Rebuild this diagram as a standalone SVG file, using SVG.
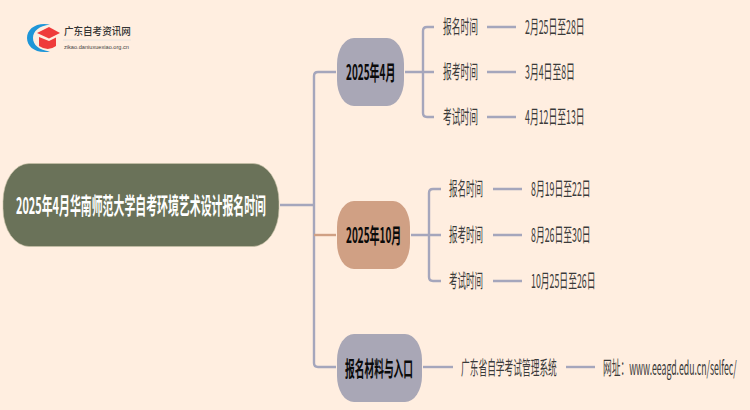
<svg xmlns="http://www.w3.org/2000/svg" width="750" height="410" viewBox="0 0 750 410">
<style>
text{font-family:"Noto Sans CJK SC","Liberation Sans",sans-serif;dominant-baseline:central;}
.b{font-size:21px;font-weight:700;fill:#0a0a0a;}
.r{font-size:23px;font-weight:700;fill:#fff;}
.t{font-size:19px;fill:#3a3a3a;}
.c{fill:none;stroke:#a5a6bc;stroke-width:2.4;}
.o{fill:none;stroke:#d0a084;stroke-width:2.4;}
</style>
<rect width="750" height="410" fill="#ffeee0"/>
<g id="connectors">
<path class="c" d="M280 205H314"/>
<path class="c" d="M336 72H318Q314 72 314 76V363Q314 367 318 367H336"/>
<path class="o" d="M314 235H336"/>
<path class="c" d="M405 72H434M434 27H427Q423 27 423 31V113Q423 117 427 117H434"/>
<path class="c" d="M411 235H441M441 189H433Q429 189 429 193V277Q429 281 433 281H441"/>
<path class="c" d="M423 367H453"/>
<path class="c" d="M487 27H516M487 72H516M487 117H516"/>
<path class="c" d="M493 189H522M493 235H522M493 281H522"/>
<path class="c" d="M566 367H595"/>
</g>
<g id="logo">
<path d="M50 24.500C36 22 27 29 27 38C27 47 36 54 50 51.500C39 50 33 45 33 38C33 31 39 26 50 24.500Z" fill="#1f96d8"/>
<path d="M37 33L49 27L60 33L49 38.500Z" fill="#ef3b3b"/>
<path d="M39 37L49 41L56 37.500V46Q48 52 39 46Z" fill="#ef3b3b"/>
<text transform="translate(64 30.500) scale(.91 1)" font-size="10.500" font-weight="500" fill="#333">广东自考资讯网</text>
<path d="M63 40H131" stroke="#e6e2de" stroke-width="1"/>
<text x="64" y="46.500" style="font-family:'Liberation Sans',sans-serif" font-size="6" fill="#444" textLength="65" lengthAdjust="spacingAndGlyphs">zikao.daniuxuexiao.org.cn</text>
</g>
<g id="root">
<rect x="3" y="163.500" width="276" height="83" rx="26" ry="38" fill="#6a7259" stroke="#c9c2a8" stroke-width="0.600"/>
<text class="r" transform="translate(16 203.500) scale(.474 1)">2025年4月华南师范大学自考环境艺术设计报名时间</text>
</g>
<g id="n2025-4">
<rect x="337" y="38" width="67" height="68" rx="17" ry="26" fill="#a9a7b6"/>
<text class="b" transform="translate(346 71) scale(.476 1)">2025年4月</text>
</g>
<g id="n2025-10">
<rect x="337" y="201" width="73" height="68" rx="17" ry="26" fill="#d0a084"/>
<text class="b" transform="translate(346 234) scale(.476 1)">2025年10月</text>
</g>
<g id="n-material">
<rect x="337" y="334" width="85" height="68" rx="17" ry="26" fill="#a9a7b6"/>
<text class="b" transform="translate(345 367) scale(.463 1)">报名材料与入口</text>
</g>
<g id="a1"><text class="t" transform="translate(443 26) scale(.46 1)">报名时间</text></g>
<g id="a2"><text class="t" transform="translate(443 71) scale(.46 1)">报考时间</text></g>
<g id="a3"><text class="t" transform="translate(443 116) scale(.46 1)">考试时间</text></g>
<g id="a1v"><text class="t" transform="translate(525 26) scale(.464 1)">2月25日至28日</text></g>
<g id="a2v"><text class="t" transform="translate(525 71) scale(.464 1)">3月4日至8日</text></g>
<g id="a3v"><text class="t" transform="translate(525 116) scale(.464 1)">4月12日至13日</text></g>
<g id="b1"><text class="t" transform="translate(449 188) scale(.447 1)">报名时间</text></g>
<g id="b2"><text class="t" transform="translate(449 234) scale(.447 1)">报考时间</text></g>
<g id="b3"><text class="t" transform="translate(449 280) scale(.447 1)">考试时间</text></g>
<g id="b1v"><text class="t" transform="translate(531 188) scale(.464 1)">8月19日至22日</text></g>
<g id="b2v"><text class="t" transform="translate(531 234) scale(.464 1)">8月26日至30日</text></g>
<g id="b3v"><text class="t" transform="translate(531 280) scale(.464 1)">10月25日至26日</text></g>
<g id="c1"><text class="t" transform="translate(461 367) scale(.459 1)">广东省自学考试管理系统</text></g>
<g id="c2"><text class="t" transform="translate(603 367) scale(.459 1)">网址：www.eeagd.edu.cn/selfec/</text></g>
</svg>
